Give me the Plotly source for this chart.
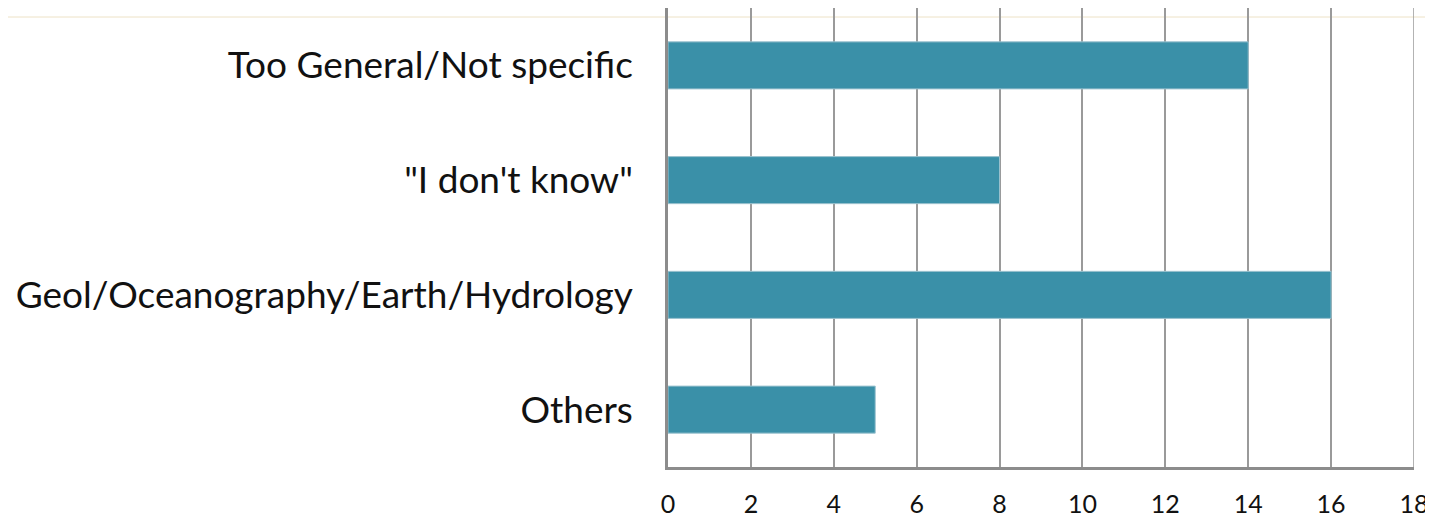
import plotly.graph_objects as go

categories = ["Too General/Not specific", "\"I don't know\"", "Geol/Oceanography/Earth/Hydrology", "Others"]
values = [14, 8, 16, 5]
x_ticks = [0, 2, 4, 6, 8, 10, 12, 14, 16, 18]

GRID = "#9A9A9A"
fig = go.Figure(go.Bar(
    y=categories, x=values, orientation="h",
    marker=dict(color="#3A90A8", line=dict(color="#9CC3CF", width=1)),
    width=0.41,
))

FONT = "Lato, 'Open Sans', sans-serif"
W, H = 1425, 509
L, R, T, B = 660, 19, 0, 50
PW, PH = W - L - R, H - T - B
fig.update_layout(
    width=W, height=H,
    margin=dict(l=L, r=R, t=T, b=B, autoexpand=False),
    paper_bgcolor="white", plot_bgcolor="white",
    showlegend=False,
    xaxis=dict(
        range=[x_ticks[0], x_ticks[-1]], tickvals=x_ticks, ticktext=[str(v) for v in x_ticks],
        automargin=False,
        showgrid=True, gridcolor=GRID, gridwidth=1.5,
        showline=True, linecolor="#8C8C8C", linewidth=2.5, mirror=False,
        zeroline=False,
        ticks="outside", ticklen=13, tickcolor="rgba(0,0,0,0)",
        tickfont=dict(family=FONT, size=25, color="#111"),
    ),
    yaxis=dict(
        categoryorder="array", categoryarray=categories[::-1],
        automargin=False,
        showgrid=False,
        showline=True, linecolor="#8C8C8C", linewidth=2.5,
        ticks="outside", ticklen=25, tickcolor="rgba(0,0,0,0)",
        tickfont=dict(family=FONT, size=37, color="#111"),
    ),
    shapes=[
        dict(type="line", xref="paper", yref="paper",
             x0=-L / PW, x1=(W - L) / PW,
             y0=(PH - 9) / PH, y1=(PH - 9) / PH,
             line=dict(color="#EDE2C6", width=1), layer="below"),
        dict(type="line", xref="x", yref="paper",
             x0=x_ticks[-1], x1=x_ticks[-1], y0=0, y1=1,
             line=dict(color=GRID, width=1.5), layer="below"),
    ],
)

fig.write_html("out.html")
